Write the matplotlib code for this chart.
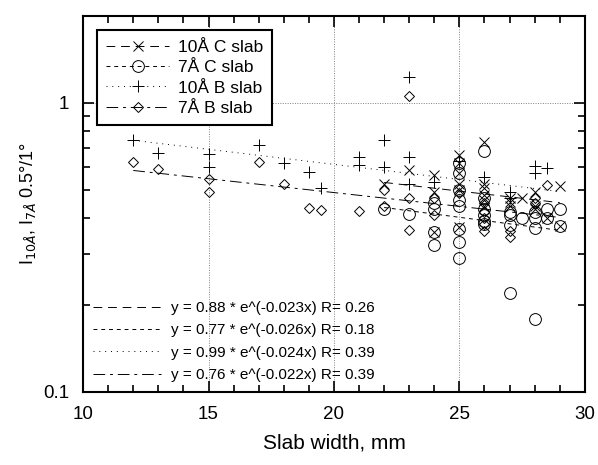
import numpy as np
import matplotlib
matplotlib.use("Agg")
import matplotlib.pyplot as plt
from matplotlib.ticker import FixedLocator, NullFormatter, MultipleLocator
from matplotlib.lines import Line2D

plt.rcParams["font.family"] = ["Liberation Sans", "DejaVu Sans"]

# 10Å C slab (x markers)
c10_x = [22, 23, 24, 24, 24, 25, 25, 25, 25, 25, 25, 26, 26, 26, 26, 26, 26,
         27, 27, 27, 27.5, 28, 28, 28, 28.5, 29, 29]
c10_y = [0.526, 0.586, 0.563, 0.492, 0.357, 0.66, 0.62, 0.57, 0.526, 0.499, 0.372,
         0.73, 0.526, 0.506, 0.48, 0.46, 0.44, 0.47, 0.455, 0.44, 0.469,
         0.49, 0.44, 0.43, 0.40, 0.515, 0.374]

# 7Å C slab (open circles)
c7_x = [22, 23, 24, 24, 24, 24, 25, 25, 25, 25, 25, 25, 25, 25,
        26, 26, 26, 26, 26, 26, 27, 27, 27, 27, 27.5, 28, 28, 28, 28,
        28.5, 28.5, 29, 29]
c7_y = [0.43, 0.414, 0.45, 0.43, 0.357, 0.323, 0.618, 0.57, 0.499, 0.46, 0.44,
        0.367, 0.329, 0.29, 0.679, 0.47, 0.43, 0.41, 0.39, 0.38,
        0.42, 0.408, 0.377, 0.22, 0.40, 0.42, 0.40, 0.37, 0.179,
        0.40, 0.43, 0.43, 0.374]

# 10Å B slab (+ markers)
b10_x = [12, 13, 15, 15, 17, 18, 19, 19.5, 21, 21, 22, 22, 23, 23, 23,
         24, 25, 26, 27, 27, 28, 28, 28.5]
b10_y = [0.745, 0.673, 0.664, 0.602, 0.716, 0.618, 0.578, 0.508, 0.652, 0.609,
         0.741, 0.602, 1.23, 0.648, 0.522, 0.533, 0.63, 0.555, 0.492, 0.47,
         0.603, 0.57, 0.594]

# 7Å B slab (diamonds)
b7_x = [12, 13, 15, 15, 17, 18, 19, 19.5, 21, 22, 22, 23, 23, 23, 24, 24,
        25, 26, 26, 26, 26, 26, 27, 27, 28, 28, 28.5]
b7_y = [0.626, 0.589, 0.545, 0.492, 0.623, 0.526, 0.434, 0.425, 0.421, 0.499,
        0.44, 1.055, 0.467, 0.362, 0.47, 0.41, 0.486, 0.45, 0.42, 0.40, 0.38,
        0.36, 0.344, 0.36, 0.467, 0.45, 0.52]

# exponential fits y = a * exp(b x), as printed on the chart
fit_a = [0.88, 0.77, 0.99, 0.76]
fit_b = [-0.023, -0.026, -0.024, -0.022]
fit_r = [0.26, 0.18, 0.39, 0.39]
fit_range = [(22, 29), (22, 29), (12, 29), (12, 29)]

labels = ["10Å C slab", "7Å C slab", "10Å B slab", "7Å B slab"]
markers = ["x", "o", "+", "D"]
msizes = [7, 8.5, 8, 5]
dashes = [(0, (9, 6)), (0, (4, 4)), (0, (1, 5)), (0, (12, 5, 3, 5))]

fig = plt.figure(figsize=(5.98, 4.65), dpi=100)
ax = fig.add_axes([0.139, 0.157, 0.839, 0.809])

series = [(c10_x, c10_y), (c7_x, c7_y), (b10_x, b10_y), (b7_x, b7_y)]
for (xs, ys), m, ms in zip(series, markers, msizes):
    ax.plot(xs, ys, linestyle="none", marker=m, markersize=ms,
            markerfacecolor="none", markeredgecolor="black", markeredgewidth=0.7)

fit_handles = []
for a, b, r, (x0, x1), ls in zip(fit_a, fit_b, fit_r, fit_range, dashes):
    xx = np.linspace(x0, x1, 50)
    ax.plot(xx, a * np.exp(b * xx), color="black", linewidth=0.7, linestyle=ls)
    fit_handles.append(Line2D([], [], color="black", linewidth=0.7, linestyle=ls,
                              label=f"y = {a:g} * e^({b:g}x) R= {r:g}"))

ax.set_yscale("log")
ax.set_xlim(10, 30)
ax.set_ylim(0.1, 2)
ax.xaxis.set_major_locator(MultipleLocator(5))
ax.xaxis.set_minor_locator(MultipleLocator(1))
ax.yaxis.set_major_locator(FixedLocator([0.1, 1]))
ax.yaxis.set_minor_locator(FixedLocator([0.2, 0.3, 0.4, 0.5, 0.6, 0.7, 0.8, 0.9, 2]))
ax.yaxis.set_minor_formatter(NullFormatter())
ax.set_yticklabels(["0.1", "1"])
ax.tick_params(which="both", direction="in", top=True, right=True, width=1.2)
ax.tick_params(which="major", length=8, labelsize=13.5, pad=10)
ax.tick_params(which="minor", length=5)
for sp in ax.spines.values():
    sp.set_linewidth(1.5)
ax.grid(which="major", color="gray", linestyle=(0, (1, 1.5)), linewidth=0.7)

ax.set_xlabel("Slab width, mm", fontsize=15, labelpad=8)
ax.set_ylabel("I$_{10Å}$, I$_{7Å}$ 0.5°/1°", fontsize=13, labelpad=4)

marker_handles = [Line2D([], [], color="black", linewidth=0.7, linestyle=ls, marker=m,
                         markersize=ms, markerfacecolor="none", markeredgewidth=0.7,
                         label=lab)
                  for lab, m, ms, ls in zip(labels, markers, msizes, dashes)]
leg1 = ax.legend(handles=marker_handles, loc="upper left", bbox_to_anchor=(0.01, 0.985),
                 fontsize=12.5, handlelength=3.6, fancybox=False, edgecolor="black",
                 framealpha=1, borderpad=0.55, labelspacing=0.3, handletextpad=0.5)
leg1.get_frame().set_linewidth(1.5)
ax.add_artist(leg1)
ax.legend(handles=fit_handles, loc="lower left", bbox_to_anchor=(0.0, 0.0),
          fontsize=11, handlelength=4.6, frameon=False, labelspacing=0.55,
          handletextpad=0.5, borderaxespad=0.25)

fig.savefig("out.png", dpi=100)
